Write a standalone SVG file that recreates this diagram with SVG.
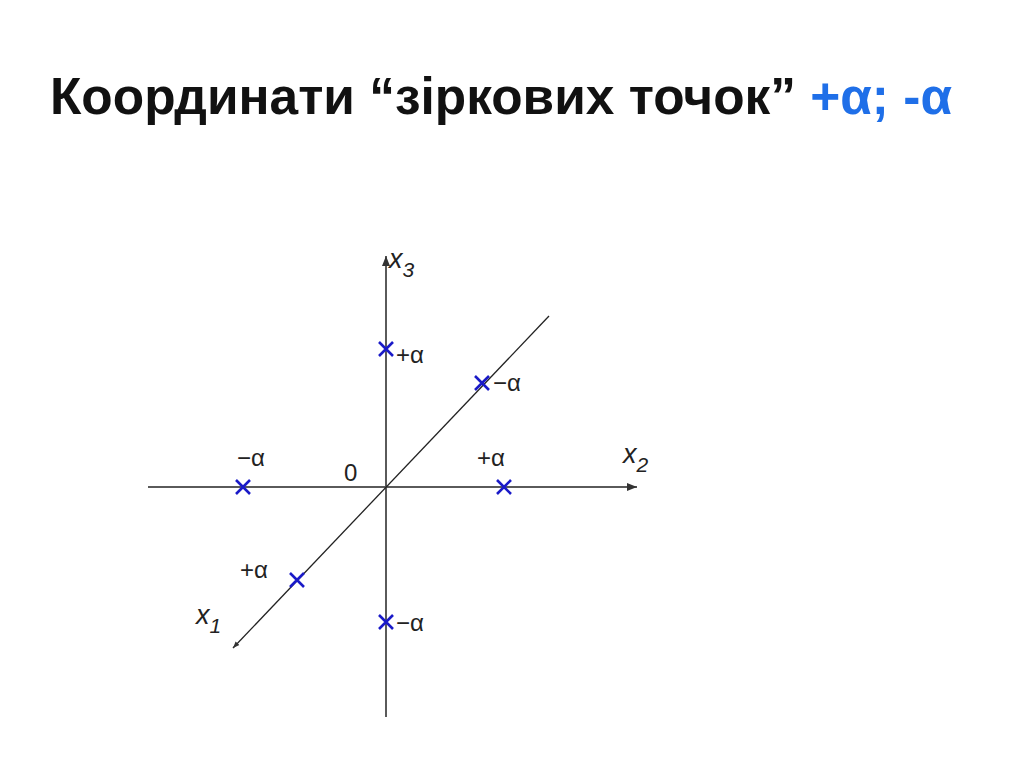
<svg xmlns="http://www.w3.org/2000/svg" width="1024" height="767" viewBox="0 0 1024 767">
<defs>
<style>
.ax{stroke:#5a5a5a;stroke-width:2;fill:none}
.dg{stroke:#222;stroke-width:1.3;fill:none}
.cr{stroke:#1a1ac8;stroke-width:2.6;fill:none}
.lb{font-family:"Liberation Sans",Arial,sans-serif;font-size:24px;fill:#222}
.ix{font-family:"Liberation Sans",Arial,sans-serif;font-size:27px;font-style:italic;fill:#222}
.sub{font-size:21px}
.title{font-family:"Liberation Sans",Arial,sans-serif;font-size:52px;font-weight:bold;fill:#111}
</style>
<marker id="ah" viewBox="0 0 10 10" refX="10" refY="5" markerWidth="5" markerHeight="5" orient="auto"><path d="M0,1 L10,5 L0,9 Z" fill="#333"/></marker>
<g id="xm"><path d="M-7,-7 L7,7 M-7,7 L7,-7" class="cr"/></g>
</defs>
<rect width="1024" height="767" fill="#fff"/>
<text class="title" x="50" y="114" textLength="902" lengthAdjust="spacingAndGlyphs">Координати “зіркових точок” <tspan fill="#1f6fe8" font-weight="bold">+α; -α</tspan></text>
<g id="connectors">
<line class="ax" x1="386" y1="717" x2="386" y2="256" marker-end="url(#ah)"/>
<line class="ax" x1="148" y1="487" x2="637" y2="487" marker-end="url(#ah)"/>
<line class="dg" x1="549" y1="316" x2="233" y2="648" marker-end="url(#ah)"/>
</g>
<g id="axis-labels">
<text class="ix" x="389" y="268">x<tspan class="sub" dy="9">3</tspan></text>
<text class="ix" x="623" y="463">x<tspan class="sub" dy="9">2</tspan></text>
<text class="ix" x="196" y="624">x<tspan class="sub" dy="9">1</tspan></text>
<text class="lb" x="344" y="481" font-size="26">0</text>
</g>
<g id="p1"><use href="#xm" x="386" y="349"/><text class="lb" x="396" y="363">+α</text></g>
<g id="p2"><use href="#xm" x="482" y="383"/><text class="lb" x="493" y="391">−α</text></g>
<g id="p3"><use href="#xm" x="243" y="487"/><text class="lb" x="237" y="466">−α</text></g>
<g id="p4"><use href="#xm" x="504" y="487"/><text class="lb" x="477" y="466">+α</text></g>
<g id="p5"><use href="#xm" x="297" y="580"/><text class="lb" x="240" y="578">+α</text></g>
<g id="p6"><use href="#xm" x="386" y="622"/><text class="lb" x="396" y="631">−α</text></g>
</svg>
